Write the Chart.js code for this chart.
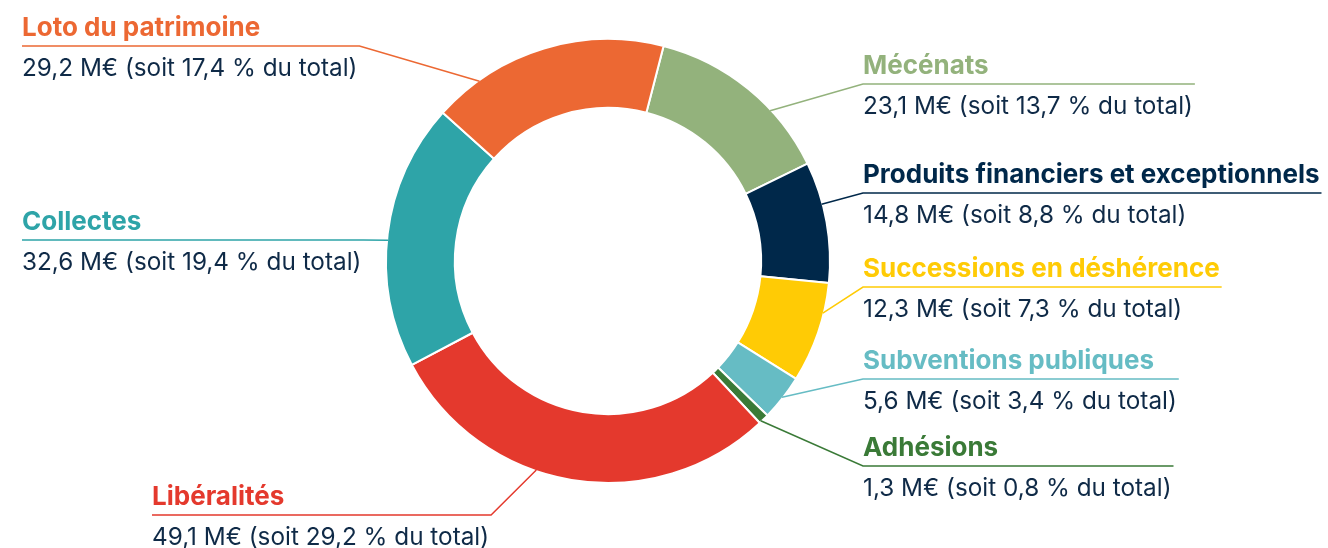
<!DOCTYPE html>
<html lang="fr">
<head>
<meta charset="utf-8">
<title>Ressources</title>
<script src="https://cdn.jsdelivr.net/npm/chart.js@4.4.1/dist/chart.umd.min.js"></script>
<style>
    html, body { margin: 0; padding: 0; background: #fff; }
    #wrap { position: relative; width: 1328px; height: 548px; }
</style>
</head>
<body>
<div id="wrap"><canvas id="doughnut-chart"></canvas></div>
<script>
// data, clockwise from the top
const labels = ["Mécénats", "Produits financiers et exceptionnels", "Successions en déshérence",
    "Subventions publiques", "Adhésions", "Libéralités", "Collectes", "Loto du patrimoine"];
const amounts = [23.1, 14.8, 12.3, 5.6, 1.3, 49.1, 32.6, 29.2];      // M€
const shares = [13.7, 8.8, 7.3, 3.4, 0.8, 29.2, 19.4, 17.4];         // % du total
const colors = ["#93b27c", "#00284a", "#ffcb05", "#66bcc4", "#3a7a37", "#e4392d", "#2ea4a8", "#ec6833"];

// where each callout goes (side, text x, underline y, where on the slice the leader starts)
const callouts = [
    { side: "right", x: 863, y: 84,  at: 0.66 },
    { side: "right", x: 863, y: 193, at: 0.35 },
    { side: "right", x: 863, y: 287, at: 0.30 },
    { side: "right", x: 863, y: 379, at: 0.50 },
    { side: "right", x: 863, y: 466, at: 0.80 },
    { side: "left",  x: 152, y: 515, at: 0.59 },
    { side: "left",  x: 22,  y: 240, at: 0.477 },
    { side: "left",  x: 22,  y: 46,  at: 0.20 }
];

const textColor = "#0f2a47";
const fontFamily = "Inter, 'Noto Sans', sans-serif";
const titleFont = "bold 26px " + fontFamily;
const valueFont = "24.3px " + fontFamily;

function fmt(v) {
    return v.toFixed(1).replace(".", ",");
}

const calloutPlugin = {
    id: "callouts",
    afterDraw(chart) {
        const ctx = chart.ctx;
        const arcs = chart.getDatasetMeta(0).data;
        ctx.save();
        arcs.forEach((arc, i) => {
            const c = callouts[i];
            const p = arc.getProps(["x", "y", "startAngle", "endAngle", "outerRadius"], true);
            const a = p.startAngle + c.at * (p.endAngle - p.startAngle);
            const ax = p.x + Math.cos(a) * (p.outerRadius - 1);
            const ay = p.y + Math.sin(a) * (p.outerRadius - 1);

            const title = labels[i];
            const value = fmt(amounts[i]) + " M€ (soit " + fmt(shares[i]) + " % du total)";
            ctx.font = titleFont;
            const w1 = ctx.measureText(title).width;
            ctx.font = valueFont;
            const w2 = ctx.measureText(value).width;
            const w = Math.max(w1, w2) + 2;

            ctx.strokeStyle = colors[i];
            ctx.lineWidth = 1.5;
            ctx.beginPath();
            ctx.moveTo(ax, ay);
            if (c.side === "right") {
                ctx.lineTo(c.x, c.y);
                ctx.lineTo(c.x + w, c.y);
            } else {
                ctx.lineTo(c.x + w, c.y);
                ctx.lineTo(c.x, c.y);
            }
            ctx.stroke();

            ctx.textAlign = "left";
            ctx.textBaseline = "alphabetic";
            ctx.fillStyle = colors[i];
            ctx.font = titleFont;
            ctx.fillText(title, c.x, c.y - 10);
            ctx.fillStyle = textColor;
            ctx.font = valueFont;
            ctx.fillText(value, c.x, c.y + 30);
        });
        ctx.restore();
    }
};

new Chart(document.getElementById("doughnut-chart"), {
    type: 'doughnut',
    data: {
        labels: labels,
        datasets: [
            {
                label: "Ressources (M€)",
                backgroundColor: colors,
                borderColor: "#ffffff",
                borderWidth: 2,
                hoverOffset: 0,
                data: amounts
            }
        ]
    },
    options: {
        maintainAspectRatio: false,
        responsive: true,
        animation: false,
        rotation: 14.5,
        radius: 222,
        cutout: "69%",
        layout: { padding: { left: 387, right: 499, top: 40, bottom: 66 } },
        plugins: {
            legend: { display: false },
            tooltip: { enabled: false }
        }
    },
    plugins: [calloutPlugin]
});
</script>
</body>
</html>
